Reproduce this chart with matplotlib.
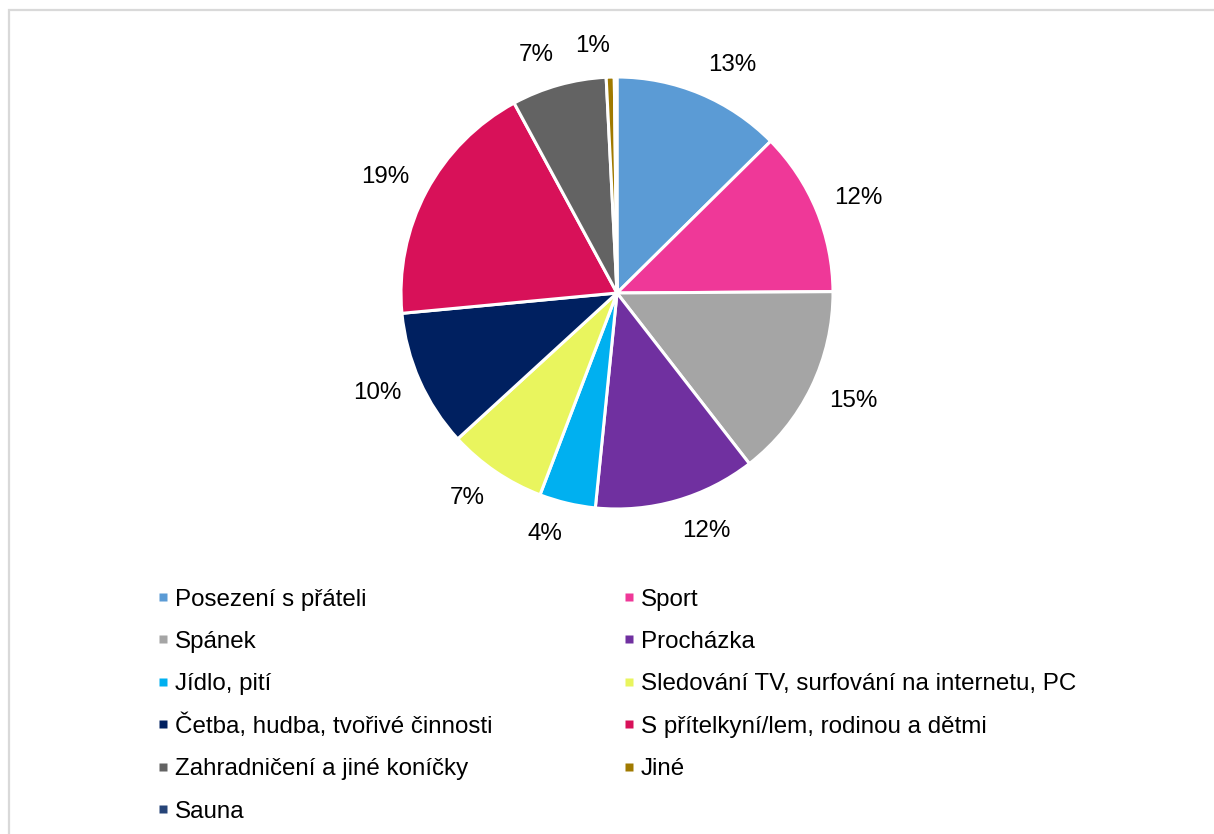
import numpy as np
import matplotlib.pyplot as plt
from matplotlib.lines import Line2D
from matplotlib.patches import Rectangle

plt.rcParams['font.family'] = ['Liberation Sans', 'DejaVu Sans']

categories = [
    "Posezení s přáteli",
    "Sport",
    "Spánek",
    "Procházka",
    "Jídlo, pití",
    "Sledování TV, surfování na internetu, PC",
    "Četba, hudba, tvořivé činnosti",
    "S přítelkyní/lem, rodinou a dětmi",
    "Zahradničení a jiné koníčky",
    "Jiné",
    "Sauna",
]
shares = [12.6, 12.3, 14.6, 12.1, 4.2, 7.4, 10.3, 18.6, 7.1, 0.6, 0.2]
colors = ["#5B9BD5", "#EF3898", "#A5A5A5", "#7030A0", "#00B0F0", "#E9F55E",
          "#002060", "#D81159", "#636363", "#A07A00", "#264478"]

W, H = 1214, 834
FS = 17.4
fig = plt.figure(figsize=(W / 100, H / 100), dpi=100)

# outer frame
fig.add_artist(Rectangle((8.5 / W, -0.01), 1.1, (H - 9.5) / H + 0.01,
                         transform=fig.transFigure, fill=False,
                         edgecolor="#D9D9D9", linewidth=1.6))

cx, cy, r = 617, 293, 216
side = 3 * r
ax = fig.add_axes([(cx - side / 2) / W, (H - cy - side / 2) / H, side / W, side / H])

wedges, _ = ax.pie(
    shares, colors=colors, startangle=90, counterclock=False,
    wedgeprops=dict(edgecolor="white", linewidth=2.2),
)
ax.set_xlim(-1.5, 1.5)
ax.set_ylim(-1.5, 1.5)
ax.set_aspect("equal")
ax.axis("off")

# percentage labels just outside each wedge
total = sum(shares)
px = 1.0 / r  # one pixel in data units
for w, s in zip(wedges, shares):
    pct = 100 * s / total
    if pct < 0.5:
        continue
    mid = np.deg2rad((w.theta1 + w.theta2) / 2)
    ux, uy = np.cos(mid), np.sin(mid)
    d = 1.09
    ax.text(d * ux, d * uy + uy * 12 * px, f"{pct:.0f}%",
            ha="left" if ux > 0 else "right", va="center",
            fontsize=FS, color="black")

# legend: two columns, filled row by row
col_x = [163, 629]
row_y0, row_dy = 597, 42.4
for i, (name, c) in enumerate(zip(categories, colors)):
    row, col = divmod(i, 2)
    mx = col_x[col]
    my = row_y0 + row * row_dy
    fig.add_artist(Line2D([mx / W], [1 - my / H], transform=fig.transFigure,
                          marker="s", markersize=5.2, linestyle="none",
                          markerfacecolor=c, markeredgecolor="none"))
    fig.text((mx + 12) / W, 1 - (my + 8.6) / H, name, fontsize=FS,
             ha="left", va="baseline", color="black")

fig.savefig("out.png", dpi=100)
